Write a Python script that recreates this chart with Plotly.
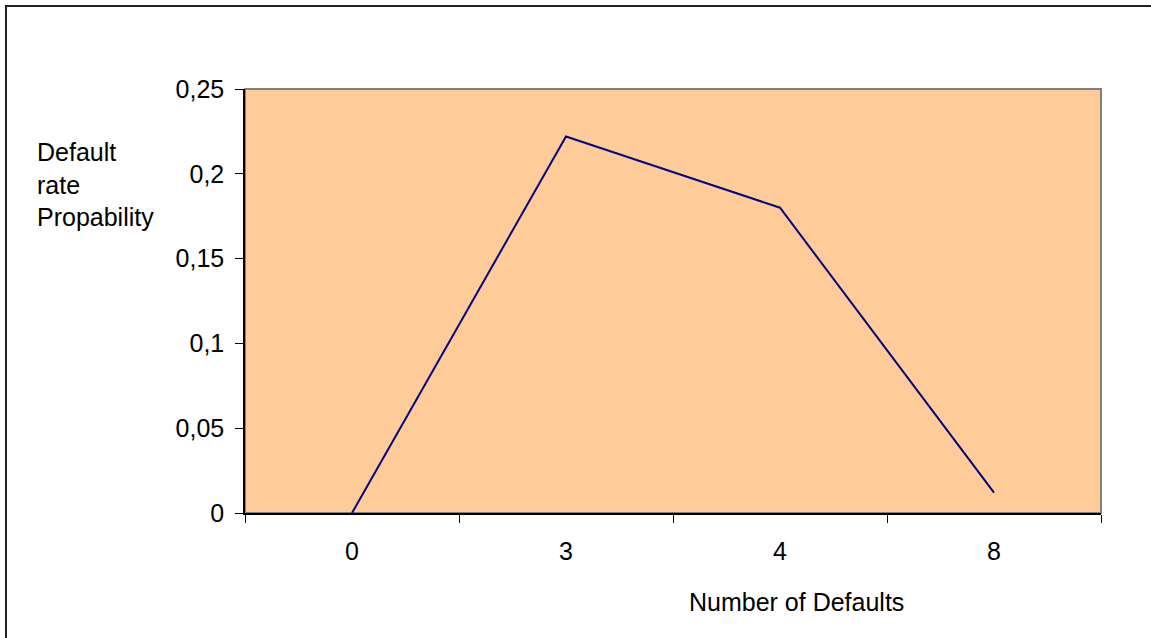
import plotly.graph_objects as go

categories = ["0", "3", "4", "8"]
values = [0.0, 0.222, 0.18, 0.012]
y_tickvals = [0, 0.05, 0.1, 0.15, 0.2, 0.25]
y_ticktext = ["0", "0,05", "0,1", "0,15", "0,2", "0,25"]
x_title = "Number of Defaults"
y_title = "Default<br>rate<br>Propability"

FONT = "Liberation Sans, Arial, sans-serif"
FS = 25

fig = go.Figure()
fig.add_trace(go.Scatter(
    x=categories, y=values, mode="lines",
    line=dict(color="#000080", width=2),
    showlegend=False, hoverinfo="x+y",
))

fig.update_layout(
    width=1151, height=638,
    margin=dict(l=245, r=50, t=89, b=125),
    paper_bgcolor="white",
    plot_bgcolor="#FFCC99",
    font=dict(family=FONT, size=FS, color="black"),
    xaxis=dict(
        type="category", categoryorder="array", categoryarray=categories,
        range=[-0.5, len(categories) - 0.5],
        tickson="boundaries", ticks="outside", ticklen=8, tickwidth=1, tickcolor="black",
        showline=True, linecolor="black", linewidth=1.5,
        showgrid=False, zeroline=False,
        tickfont=dict(family=FONT, size=FS, color="black"),
        ticklabelstandoff=15,
    ),
    yaxis=dict(
        range=[0, 0.25], tickvals=y_tickvals, ticktext=y_ticktext,
        ticks="outside", ticklen=8, tickwidth=1, tickcolor="black",
        showline=True, linecolor="black", linewidth=1.5,
        showgrid=False, zeroline=False,
        tickfont=dict(family=FONT, size=FS, color="black"),
        ticklabelstandoff=6,
    ),
    shapes=[
        dict(type="rect", xref="paper", yref="paper", x0=0, x1=1, y0=0, y1=1,
             line=dict(color="#808080", width=2), layer="below"),
        dict(type="rect", xref="paper", yref="paper", x0=-0.2792, x1=1.2, y0=-0.5, y1=1.1958,
             line=dict(color="#222222", width=2), layer="above"),
    ],
    annotations=[
        dict(text=x_title, xref="paper", yref="paper", x=0.6437, y=-0.2099,
             xanchor="center", yanchor="middle", showarrow=False,
             font=dict(family=FONT, size=FS, color="black")),
        dict(text=y_title, xref="paper", yref="paper", x=-0.2453, y=0.7736,
             xanchor="left", yanchor="middle", align="left", showarrow=False,
             font=dict(family=FONT, size=FS, color="black")),
    ],
)

fig.write_html("out.html", config={"displayModeBar": False},
               post_script="document.body.style.margin='0';")
